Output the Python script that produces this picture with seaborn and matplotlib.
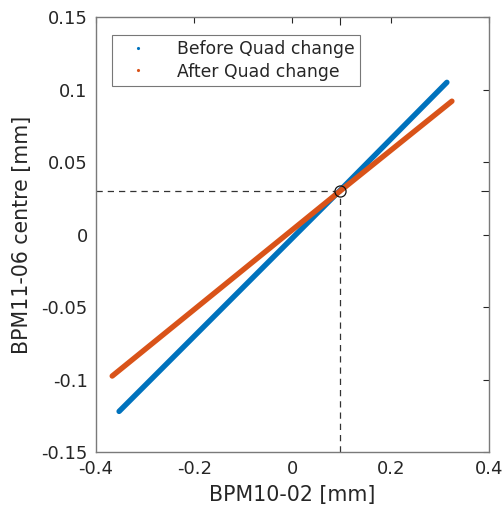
import matplotlib
matplotlib.use("Agg")
import matplotlib.pyplot as plt
from matplotlib.lines import Line2D
import seaborn as sns
import pandas as pd

# Data (end points and crossing point of each fit line)
before_x = [-0.353, 0.097, 0.3145]
before_y = [-0.122, 0.0305, 0.105]
after_x = [-0.367, 0.097, 0.3247]
after_y = [-0.0976, 0.0300, 0.092]
series_names = ["Before Quad change", "After Quad change"]
cross_x = 0.097
cross_y = 0.030
x_ticks = [-0.4, -0.2, 0, 0.2, 0.4]
x_ticklabels = ["-0.4", "-0.2", "0", "0.2", "0.4"]
y_ticks = [-0.15, -0.1, -0.05, 0, 0.05, 0.1, 0.15]
y_ticklabels = ["-0.15", "-0.1", "-0.05", "0", "0.05", "0.1", "0.15"]

colors = ["#0072BD", "#D95319"]

df = pd.DataFrame({
    "x": before_x + after_x,
    "y": before_y + after_y,
    "series": [series_names[0]] * len(before_x) + [series_names[1]] * len(after_x),
})

sns.set_style("white")
plt.rcParams["font.family"] = ["DejaVu Sans"]
text_color = "#262626"
axis_color = "#7a7a7a"

fig = plt.figure(figsize=(5.04, 5.11), dpi=100)
ax = fig.add_axes([0.1905, 0.1155, 0.7795, 0.851])

sns.lineplot(data=df, x="x", y="y", hue="series", palette=colors,
             hue_order=series_names, linewidth=3.9, legend=False, ax=ax,
             solid_capstyle="round", sort=False)

# dashed guide lines
ax.plot([-0.4, cross_x], [cross_y, cross_y], ls=(0, (5, 4)), color="#333333", lw=0.9, zorder=1)
ax.plot([cross_x, cross_x], [-0.15, cross_y], ls=(0, (5, 4)), color="#333333", lw=0.9, zorder=1)
ax.plot([cross_x], [cross_y], marker="o", ms=8, mfc="none", mec="#111111", mew=0.9, zorder=5)

ax.set_xlim(-0.4, 0.4)
ax.set_ylim(-0.15, 0.15)
ax.set_xticks(x_ticks)
ax.set_xticklabels(x_ticklabels)
ax.set_yticks(y_ticks)
ax.set_yticklabels(y_ticklabels)
ax.set_xticks([cross_x], minor=True)
ax.set_yticks([cross_y], minor=True)
ax.tick_params(which="both", direction="in", top=True, right=True, colors=text_color,
               labelsize=13, length=4, width=0.8, pad=6)
ax.tick_params(which="minor", length=6)
for s in ax.spines.values():
    s.set_visible(True)
    s.set_color(axis_color)
    s.set_linewidth(1.0)

ax.set_xlabel("BPM10-02 [mm]", fontsize=14.8, color=text_color, labelpad=5)
ax.set_ylabel("BPM11-06 centre [mm]", fontsize=14.8, color=text_color, labelpad=7)

handles = [Line2D([], [], ls="none", marker=".", ms=2.5, color=c) for c in colors]
leg = ax.legend(handles, series_names, loc="upper left", bbox_to_anchor=(0.04, 0.96),
                fontsize=12.4, frameon=True, fancybox=False, handlelength=2.4,
                handletextpad=1.1, borderpad=0.3, labelspacing=0.28, borderaxespad=0)
leg.get_frame().set_edgecolor("#555555")
leg.get_frame().set_linewidth(0.8)
for t in leg.get_texts():
    t.set_color(text_color)

fig.savefig("out.png", dpi=100)
